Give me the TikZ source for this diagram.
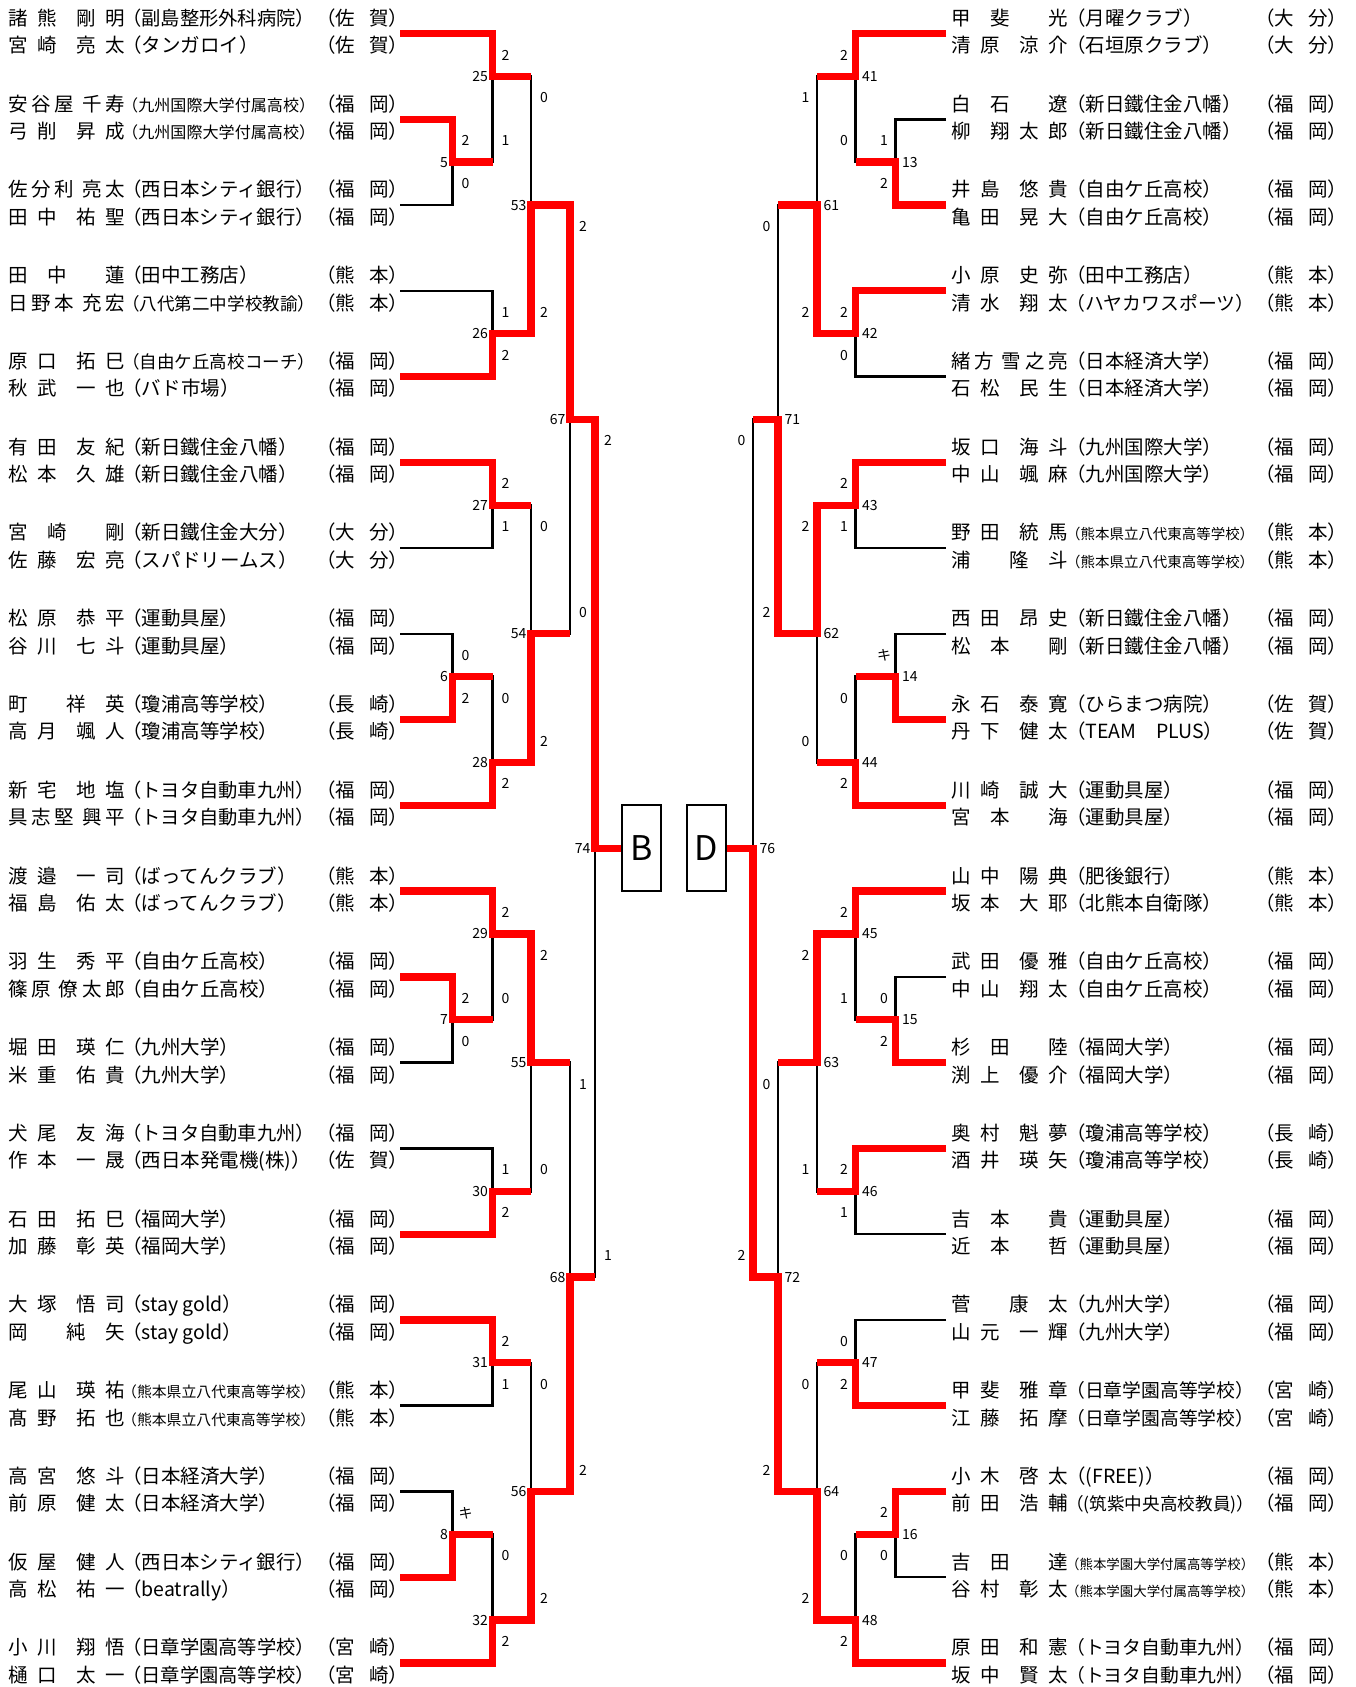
\documentclass[tikz,border=0pt]{standalone}
\usepackage{fontspec}
\usepackage{graphicx}
\usepackage{xcolor}
\usepackage{tikz}
\newfontfamily\jpfont{Noto Sans CJK JP}
\definecolor{winred}{HTML}{FF0000}
\def\spread#1{\spreadstep#1\endspread}
\def\spreadstep#1#2\endspread{#1\ifx\relax#2\relax\else\hfill\spreadstep#2\endspread\fi}
\newcommand\playername[2]{\hbox to 117pt{\expandafter\spread\expandafter{#1}\hfill\hfill\expandafter\spread\expandafter{#2}}}
\newcommand\prefname[1]{（\hbox to 53pt{\expandafter\spread\expandafter{#1}}）}
\newsavebox\affsave
\newcommand\affcell[2]{\sbox\affsave{#2}\ifdim\wd\affsave>#1\resizebox{#1}{!}{\usebox\affsave}\else\usebox\affsave\fi}
\tikzset{
  bracketline/.style={draw=black, line width=2.5pt},
  winline/.style={draw=winred, line width=7.3pt, line join=miter},
  seedbox/.style={
    rectangle, draw=black, line width=2.5pt, fill=white,
    minimum width=39pt, minimum height=86pt, inner sep=0pt,
    font={\jpfont\fontsize{34}{36}\selectfont},
  },
  matchno/.style={inner sep=0pt, font={\jpfont\fontsize{14}{16}\selectfont}},
  scoreno/.style={inner sep=0pt, font={\jpfont\fontsize{14}{16}\selectfont}},
  namecell/.style={anchor=base west, inner sep=0pt, font={\jpfont\fontsize{19.5}{22}\selectfont}},
}

\begin{document}
\begin{tikzpicture}[x=1pt, y=-42.88pt]
\useasboundingbox (0,-0.7813) rectangle (1356,38.561);

\foreach \i in {1,...,20} {
  \coordinate (lp\i) at (400,{2*(\i-1)});
  \coordinate (rp\i) at (946,{2*(\i-1)});
}

\foreach \m/\x/\k in {5/452.5/3, 6/452.5/15, 7/452.5/23, 8/452.5/35,
  25/492.5/1, 26/492.5/7, 27/492.5/11, 28/492.5/17, 29/492.5/21, 30/492.5/27, 31/492.5/31, 32/492.5/37,
  53/531/4, 54/531/14, 55/531/24, 56/531/34, 67/570/9, 68/570/29, 74/595/19} {
  \coordinate (m\m) at (\x,\k);
  \node[matchno, anchor=east] (n\m) at (\x-4.5,\k) {\m};
}
\foreach \m/\x/\k in {13/895.5/3, 14/895.5/15, 15/895.5/23, 16/895.5/35,
  41/855.5/1, 42/855.5/7, 43/855.5/11, 44/855.5/17, 45/855.5/21, 46/855.5/27, 47/855.5/31, 48/855.5/37,
  61/817/4, 62/817/14, 63/817/24, 64/817/34, 71/778/9, 72/778/29, 76/753/19} {
  \coordinate (m\m) at (\x,\k);
  \node[matchno, anchor=west] (n\m) at (\x+6.5,\k) {\m};
}

\node[seedbox] (boxB) at (641.5,19) {B};
\node[seedbox] (boxD) at (706.5,19) {D};

\foreach \a/\m/\b in {lp2/m5/lp3, lp8/m6/lp9, lp12/m7/lp13, lp18/m8/lp19,
  lp1/m25/m5, lp4/m26/lp5, lp6/m27/lp7, m6/m28/lp10,
  lp11/m29/m7, lp14/m30/lp15, lp16/m31/lp17, m8/m32/lp20,
  m25/m53/m26, m27/m54/m28, m29/m55/m30, m31/m56/m32,
  m53/m67/m54, m55/m68/m56, m67/m74/m68,
  rp2/m13/rp3, rp8/m14/rp9, rp12/m15/rp13, rp18/m16/rp19,
  rp1/m41/m13, rp4/m42/rp5, rp6/m43/rp7, m14/m44/rp10,
  rp11/m45/m15, rp14/m46/rp15, rp16/m47/rp17, m16/m48/rp20,
  m41/m61/m42, m43/m62/m44, m45/m63/m46, m47/m64/m48,
  m61/m71/m62, m63/m72/m64, m71/m76/m72}
  \draw[bracketline] (\a) -| (\m) |- (\b);

\draw[winline] (lp2) -| (m5) -- (m5 -| m25);
\draw[winline] (lp1) -| (m25) -- (m25 -| m53);
\draw[winline] (lp5) -| (m26) -| (m53) -| (m67) -| (m74) -- (boxB.west);
\draw[winline] (lp6) -| (m27) -- (m27 -| m54);
\draw[winline] (lp9) -| (m6) -- (m6 -| m28);
\draw[winline] (lp10) -| (m28) -| (m54) -- (m54 -| m67);
\draw[winline] (lp11) -| (m29) -| (m55) -- (m55 -| m68);
\draw[winline] (lp12) -| (m7) -- (m7 -| m29);
\draw[winline] (lp15) -| (m30) -- (m30 -| m55);
\draw[winline] (lp16) -| (m31) -- (m31 -| m56);
\draw[winline] (lp19) -| (m8) -- (m8 -| m32);
\draw[winline] (lp20) -| (m32) -| (m56) -| (m68) -- (m68 -| m74);

\draw[winline] (rp1) -| (m41) -- (m41 -| m61);
\draw[winline] (rp3) -| (m13) -- (m13 -| m41);
\draw[winline] (rp4) -| (m42) -| (m61) -- (m61 -| m71);
\draw[winline] (rp6) -| (m43) -| (m62) -| (m71) -- (m71 -| m76);
\draw[winline] (rp9) -| (m14) -- (m14 -| m44);
\draw[winline] (rp10) -| (m44) -- (m44 -| m62);
\draw[winline] (rp11) -| (m45) -| (m63) -- (m63 -| m72);
\draw[winline] (rp13) -| (m15) -- (m15 -| m45);
\draw[winline] (rp14) -| (m46) -- (m46 -| m63);
\draw[winline] (rp17) -| (m47) -- (m47 -| m64);
\draw[winline] (rp18) -| (m16) -- (m16 -| m48);
\draw[winline] (rp20) -| (m48) -| (m64) -| (m72) -| (m76) -- (boxD.east);

\foreach \m/\x/\kt/\kb/\topsc/\botsc in {5/452.5/2/4/2/0, 6/452.5/14/16/0/2, 7/452.5/22/24/2/0, 8/452.5/34/36/キ/{},
  25/492.5/0/3/2/1, 26/492.5/6/8/1/2, 27/492.5/10/12/2/1, 28/492.5/15/18/0/2,
  29/492.5/20/23/2/0, 30/492.5/26/28/1/2, 31/492.5/30/32/2/1, 32/492.5/35/38/0/2,
  53/531/1/7/0/2, 54/531/11/17/0/2, 55/531/21/27/2/0, 56/531/31/37/0/2,
  67/570/4/14/2/0, 68/570/24/34/1/2, 74/595/9/29/2/1} {
  \node[scoreno] (s\m-t) at (\x+13,\kt+0.5) {\topsc};
  \node[scoreno] (s\m-b) at (\x+13,\kb-0.5) {\botsc};
}
\foreach \m/\x/\kt/\kb/\topsc/\botsc in {13/895.5/2/4/1/2, 14/895.5/14/16/キ/{}, 15/895.5/22/24/0/2, 16/895.5/34/36/2/0,
  41/855.5/0/3/2/0, 42/855.5/6/8/2/0, 43/855.5/10/12/2/1, 44/855.5/15/18/0/2,
  45/855.5/20/23/2/1, 46/855.5/26/28/2/1, 47/855.5/30/32/0/2, 48/855.5/35/38/0/2,
  61/817/1/7/1/2, 62/817/11/17/2/0, 63/817/21/27/2/1, 64/817/31/37/0/2,
  71/778/4/14/0/2, 72/778/24/34/0/2, 76/753/9/29/0/2} {
  \node[scoreno] (s\m-t) at (\x-11.5,\kt+0.5) {\topsc};
  \node[scoreno] (s\m-b) at (\x-11.5,\kb-0.5) {\botsc};
}

\foreach \i/\rw/\sn/\gn/\af/\pf in {
  1/0/諸熊/剛明/（副島整形外科病院）/佐賀,
  1/1/宮崎/亮太/（タンガロイ）/佐賀,
  2/0/安谷屋/千寿/（九州国際大学付属高校）/福岡,
  2/1/弓削/昇成/（九州国際大学付属高校）/福岡,
  3/0/佐分利/亮太/（西日本シティ銀行）/福岡,
  3/1/田中/祐聖/（西日本シティ銀行）/福岡,
  4/0/田中/蓮/（田中工務店）/熊本,
  4/1/日野本/充宏/（八代第二中学校教諭）/熊本,
  5/0/原口/拓巳/（自由ケ丘高校コーチ）/福岡,
  5/1/秋武/一也/（バド市場）/福岡,
  6/0/有田/友紀/（新日鐵住金八幡）/福岡,
  6/1/松本/久雄/（新日鐵住金八幡）/福岡,
  7/0/宮崎/剛/（新日鐵住金大分）/大分,
  7/1/佐藤/宏亮/（スパドリームス）/大分,
  8/0/松原/恭平/（運動具屋）/福岡,
  8/1/谷川/七斗/（運動具屋）/福岡,
  9/0/町/祥英/（瓊浦高等学校）/長崎,
  9/1/高月/颯人/（瓊浦高等学校）/長崎,
  10/0/新宅/地塩/（トヨタ自動車九州）/福岡,
  10/1/具志堅/興平/（トヨタ自動車九州）/福岡,
  11/0/渡邉/一司/（ばってんクラブ）/熊本,
  11/1/福島/佑太/（ばってんクラブ）/熊本,
  12/0/羽生/秀平/（自由ケ丘高校）/福岡,
  12/1/篠原/僚太郎/（自由ケ丘高校）/福岡,
  13/0/堀田/瑛仁/（九州大学）/福岡,
  13/1/米重/佑貴/（九州大学）/福岡,
  14/0/犬尾/友海/（トヨタ自動車九州）/福岡,
  14/1/作本/一晟/（西日本発電機(株)）/佐賀,
  15/0/石田/拓巳/（福岡大学）/福岡,
  15/1/加藤/彰英/（福岡大学）/福岡,
  16/0/大塚/悟司/（stay gold）/福岡,
  16/1/岡/純矢/（stay gold）/福岡,
  17/0/尾山/瑛祐/（熊本県立八代東高等学校）/熊本,
  17/1/髙野/拓也/（熊本県立八代東高等学校）/熊本,
  18/0/高宮/悠斗/（日本経済大学）/福岡,
  18/1/前原/健太/（日本経済大学）/福岡,
  19/0/仮屋/健人/（西日本シティ銀行）/福岡,
  19/1/高松/祐一/（beatrally）/福岡,
  20/0/小川/翔悟/（日章学園高等学校）/宮崎,
  20/1/樋口/太一/（日章学園高等学校）/宮崎} {
  \node[namecell] (L\i-\rw) at (8,{2*(\i-1)-0.189+0.641*\rw}) {\playername{\sn}{\gn}};
  \node[namecell] (L\i-\rw-aff) at (122,{2*(\i-1)-0.189+0.641*\rw}) {\affcell{193pt}{\af}};
  \node[namecell] (L\i-\rw-pref) at (316,{2*(\i-1)-0.189+0.641*\rw}) {\prefname{\pf}};
}

\foreach \i/\rw/\sn/\gn/\af/\pf in {
  1/0/甲斐/光/（月曜クラブ）/大分,
  1/1/清原/涼介/（石垣原クラブ）/大分,
  2/0/白石/遼/（新日鐵住金八幡）/福岡,
  2/1/柳/翔太郎/（新日鐵住金八幡）/福岡,
  3/0/井島/悠貴/（自由ケ丘高校）/福岡,
  3/1/亀田/晃大/（自由ケ丘高校）/福岡,
  4/0/小原/史弥/（田中工務店）/熊本,
  4/1/清水/翔太/（ハヤカワスポーツ）/熊本,
  5/0/緒方/雪之亮/（日本経済大学）/福岡,
  5/1/石松/民生/（日本経済大学）/福岡,
  6/0/坂口/海斗/（九州国際大学）/福岡,
  6/1/中山/颯麻/（九州国際大学）/福岡,
  7/0/野田/統馬/（熊本県立八代東高等学校）/熊本,
  7/1/浦/隆斗/（熊本県立八代東高等学校）/熊本,
  8/0/西田/昂史/（新日鐵住金八幡）/福岡,
  8/1/松本/剛/（新日鐵住金八幡）/福岡,
  9/0/永石/泰寛/（ひらまつ病院）/佐賀,
  9/1/丹下/健太/（TEAM　PLUS）/佐賀,
  10/0/川崎/誠大/（運動具屋）/福岡,
  10/1/宮本/海/（運動具屋）/福岡,
  11/0/山中/陽典/（肥後銀行）/熊本,
  11/1/坂本/大耶/（北熊本自衛隊）/熊本,
  12/0/武田/優雅/（自由ケ丘高校）/福岡,
  12/1/中山/翔太/（自由ケ丘高校）/福岡,
  13/0/杉田/陸/（福岡大学）/福岡,
  13/1/渕上/優介/（福岡大学）/福岡,
  14/0/奥村/魁夢/（瓊浦高等学校）/長崎,
  14/1/酒井/瑛矢/（瓊浦高等学校）/長崎,
  15/0/吉本/貴/（運動具屋）/福岡,
  15/1/近本/哲/（運動具屋）/福岡,
  16/0/菅/康太/（九州大学）/福岡,
  16/1/山元/一輝/（九州大学）/福岡,
  17/0/甲斐/雅章/（日章学園高等学校）/宮崎,
  17/1/江藤/拓摩/（日章学園高等学校）/宮崎,
  18/0/小木/啓太/（(FREE)）/福岡,
  18/1/前田/浩輔/（(筑紫中央高校教員)）/福岡,
  19/0/吉田/達/（熊本学園大学付属高等学校）/熊本,
  19/1/谷村/彰太/（熊本学園大学付属高等学校）/熊本,
  20/0/原田/和憲/（トヨタ自動車九州）/福岡,
  20/1/坂中/賢太/（トヨタ自動車九州）/福岡} {
  \node[namecell] (R\i-\rw) at (951,{2*(\i-1)-0.189+0.641*\rw}) {\playername{\sn}{\gn}};
  \node[namecell] (R\i-\rw-aff) at (1066,{2*(\i-1)-0.189+0.641*\rw}) {\affcell{188pt}{\af}};
  \node[namecell] (R\i-\rw-pref) at (1255,{2*(\i-1)-0.189+0.641*\rw}) {\prefname{\pf}};
}

\end{tikzpicture}
\end{document}
